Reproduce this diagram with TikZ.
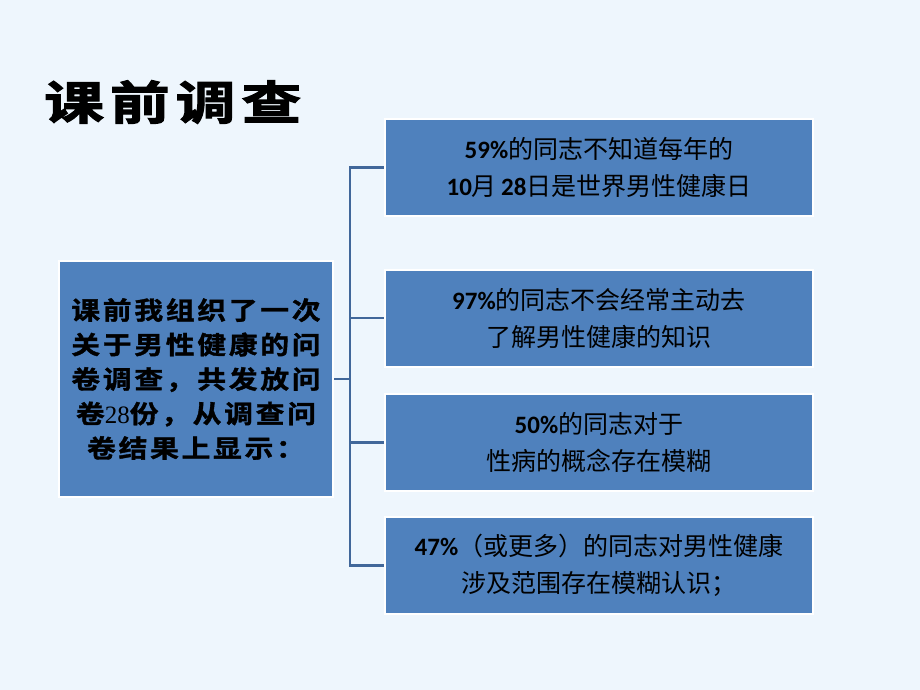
\documentclass[tikz,border=0pt]{standalone}
\usepackage{fontspec}
\setmainfont{Noto Sans CJK SC}
\newfontfamily\heavy[FakeBold=1.5,FakeStretch=1.15,LetterSpace=11]{Noto Sans CJK SC Bold}
\newfontfamily\titlefont[FakeBold=2.5,FakeStretch=1.3,LetterSpace=13]{Noto Sans CJK SC Bold}
\newfontfamily\num{Carlito}
\newfontfamily\serifnum{Liberation Serif}
\usetikzlibrary{positioning}
\definecolor{slidebg}{HTML}{EEF6FD}
\definecolor{boxblue}{HTML}{4F81BD}
\definecolor{linkblue}{HTML}{41679A}
\newcommand{\pct}[1]{{\num\bfseries #1}}

\begin{document}
\begin{tikzpicture}[
  x=1pt,y=-1pt,
  infobox/.style={rectangle,fill=boxblue,draw=white,line width=2pt,inner sep=0pt,
                  align=center,text=black},
  resultbox/.style={infobox,minimum width=428pt,minimum height=97pt,
                    font=\fontsize{25}{37}\selectfont},
  link/.style={draw=linkblue,line width=2.5pt},
]
  % Slide background
  \fill[slidebg] (0,0) rectangle (920,690);
  \useasboundingbox (0,0) rectangle (920,690);

  % Title
  \node[anchor=west,inner sep=0pt,font=\titlefont\fontsize{46}{46}\selectfont]
    (title) at (44,102) {课前调查};

  % Left box
  \node[infobox,minimum width=274pt,minimum height=236pt,
        font=\heavy\fontsize{25}{34.5}\selectfont] (survey) at (196,379)
    {课前我组织了一次\\关于男性健康的问\\卷调查，共发放问\\卷{\serifnum 28}份，从调查问\\卷结果上显示：};

  % Result boxes
  \node[resultbox] (pct59) at (599,167.5)
    {\pct{59\%}的同志不知道每年的\\\pct{10}月\,\pct{28}日是世界男性健康日};
  \node[resultbox] (pct97) at (599,318)
    {\pct{97\%}的同志不会经常主动去\\了解男性健康的知识};
  \node[resultbox] (pct50) at (599,442.5)
    {\pct{50\%}的同志对于\\性病的概念存在模糊};
  \node[resultbox] (pct47) at (599,565.5)
    {\pct{47\%}（或更多）的同志对男性健康\\涉及范围存在模糊认识；};

  % Bracket
  \draw[link] (survey.east) -- ++(16,0) coordinate (fork);
  \foreach \b in {pct59,pct97,pct50,pct47}
    \draw[link] (fork) |- (\b.west);
\end{tikzpicture}
\end{document}
